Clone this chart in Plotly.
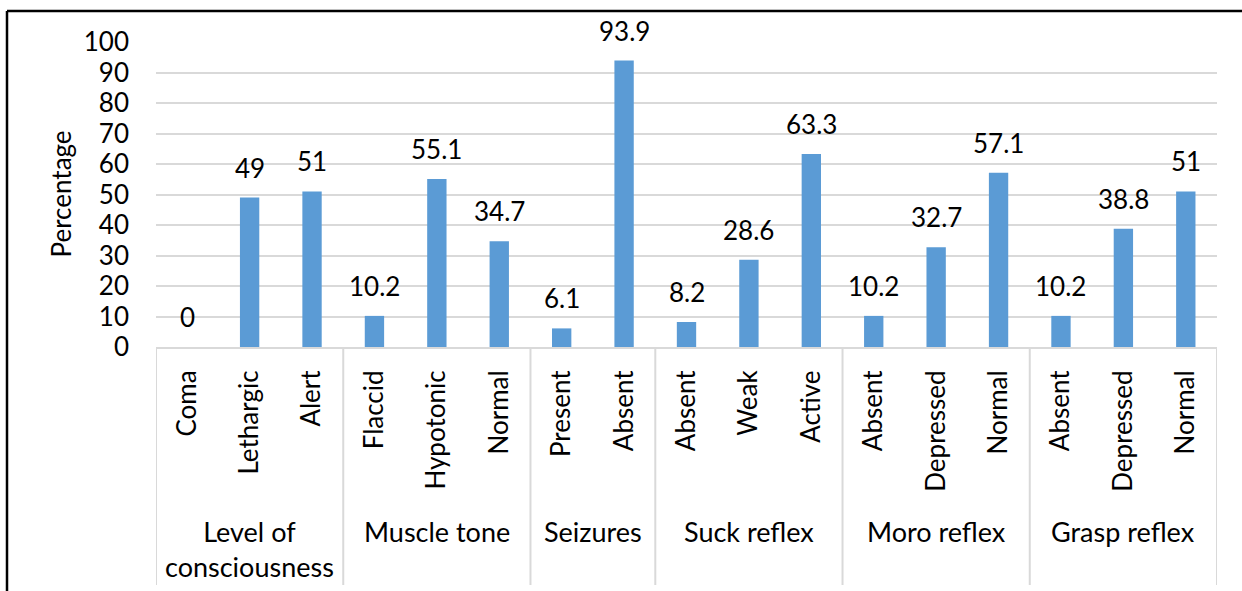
import plotly.graph_objects as go

# Neonatal neurological findings (percentage of cases)
groups = ["Level of<br>consciousness", "Muscle tone", "Seizures",
          "Suck reflex", "Moro reflex", "Grasp reflex"]
group_sizes = [3, 3, 2, 3, 3, 3]
categories = ["Coma", "Lethargic", "Alert",
              "Flaccid", "Hypotonic", "Normal",
              "Present", "Absent",
              "Absent", "Weak", "Active",
              "Absent", "Depressed", "Normal",
              "Absent", "Depressed", "Normal"]
percentages = [0, 49, 51,
               10.2, 55.1, 34.7,
               6.1, 93.9,
               8.2, 28.6, 63.3,
               10.2, 32.7, 57.1,
               10.2, 38.8, 51]
y_ticks = list(range(0, 101, 10))

W, H = 1242, 591
ML, MR, MT, MB = 156, 25, 42, 244
PW, PH = W - ML - MR, H - MT - MB
FONT = "Lato, 'Open Sans', sans-serif"
FS = 26
GRID = "#d9d9d9"
BAR = "#5b9bd5"


def px_x(p):
    return (p - ML) / PW


def px_y(p):
    return (H - MB - p) / PH


x = list(range(len(categories)))

fig = go.Figure(go.Bar(
    x=x, y=percentages, width=0.31,
    marker=dict(color=BAR, line=dict(width=0)),
    hoverinfo="skip",
))

annotations = []
# value labels above each bar
for xi, v in zip(x, percentages):
    annotations.append(dict(
        x=xi, y=v, xref="x", yref="y", text=f"{v:g}", showarrow=False,
        yanchor="bottom", yshift=12, font=dict(size=FS, color="#000"),
    ))

# group labels and dividers under the category labels
shapes = []
start = 0
bounds = [-0.5]
for g, n in zip(groups, group_sizes):
    center = start + (n - 1) / 2
    annotations.append(dict(
        x=center, y=0, xref="x", yref="paper", text=g, showarrow=False,
        yanchor="top", yshift=-166, font=dict(size=27, color="#000"),
    ))
    start += n
    bounds.append(start - 0.5)

for b in bounds:
    shapes.append(dict(
        type="line", xref="x", yref="paper", x0=b, x1=b,
        y0=0, y1=px_y(585), line=dict(color=GRID, width=2),
    ))

# y-axis title
annotations.append(dict(
    x=0, y=0.5, xref="paper", yref="paper", text="Percentage",
    showarrow=False, textangle=-90, xanchor="center", yanchor="middle",
    xshift=px_x(60) * PW, font=dict(size=FS, color="#000"),
))

# outer frame (left and top edges)
frame = dict(color="#000", width=2.5)
shapes.append(dict(type="line", xref="paper", yref="paper",
                   x0=px_x(7), x1=px_x(7), y0=px_y(11), y1=px_y(H + 5),
                   line=frame))
shapes.append(dict(type="line", xref="paper", yref="paper",
                   x0=px_x(7), x1=px_x(W + 5), y0=px_y(11), y1=px_y(11),
                   line=frame))

fig.update_layout(
    width=W, height=H, autosize=False,
    margin=dict(l=ML, r=MR, t=MT, b=MB, pad=0),
    paper_bgcolor="white", plot_bgcolor="white",
    font=dict(family=FONT, size=FS, color="#000"),
    showlegend=False,
    annotations=annotations, shapes=shapes,
    xaxis=dict(
        range=[-0.5, len(categories) - 0.5],
        tickmode="array", tickvals=x, ticktext=categories,
        tickangle=-90, ticks="", showgrid=False,
        showline=True, linecolor=GRID, linewidth=2,
        ticklabelstandoff=11, tickfont=dict(size=FS, color="#000"),
        zeroline=False, fixedrange=True,
    ),
    yaxis=dict(
        range=[0, 100], tickmode="array", tickvals=y_ticks,
        showgrid=True, gridcolor=GRID, gridwidth=2,
        zeroline=False, ticks="", showline=False,
        ticklabelstandoff=26, tickfont=dict(size=FS, color="#000"),
        fixedrange=True,
    ),
)

fig.write_html("out.html")
